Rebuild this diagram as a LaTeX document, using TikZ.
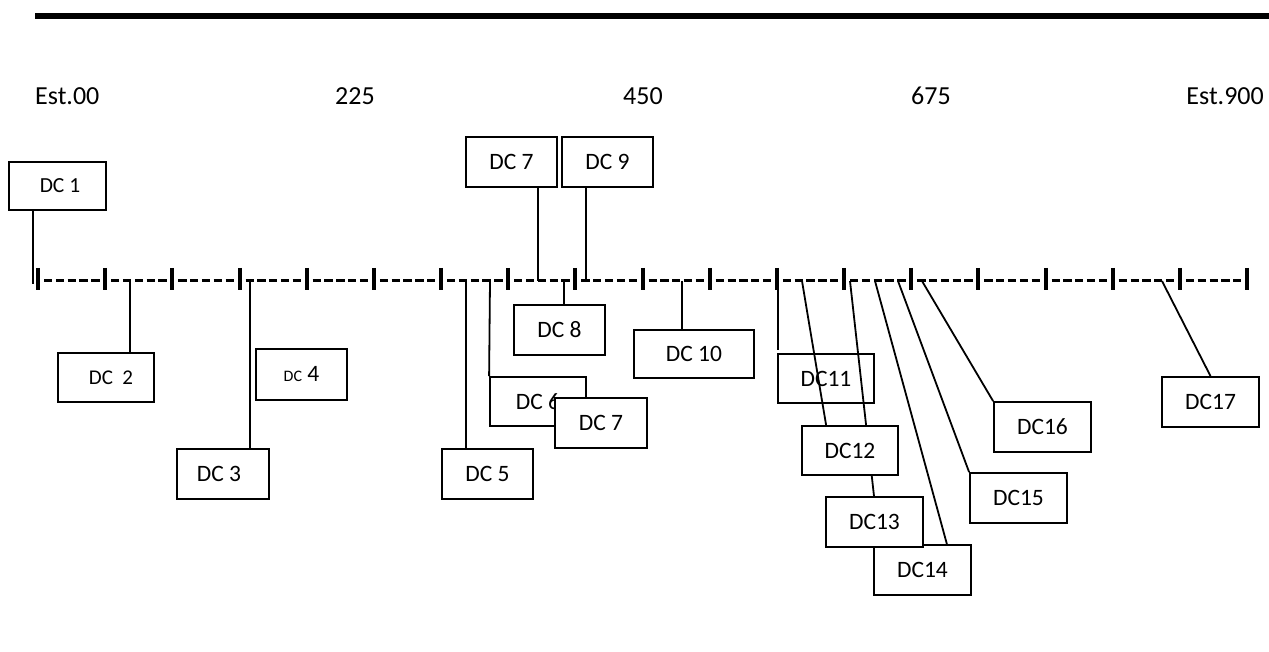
\documentclass[tikz,border=0pt]{standalone}
\usepackage{fontspec}
\setmainfont{Carlito}
\usetikzlibrary{backgrounds}
\begin{document}
\begin{tikzpicture}[x=1pt,y=-1pt,
  box/.style={draw,line width=1.8pt,fill=white,minimum width=96pt,minimum height=49pt,inner sep=0pt,font=\fontsize{23.5}{27}\selectfont},
  openbox/.style={box,fill=none},
  conn/.style={line width=1.8pt},
  lbl/.style={font=\fontsize{26}{30}\selectfont,inner sep=0pt}]
\useasboundingbox (0,0) rectangle (1269,652);
% top rule
\coordinate (tl) at (35,16);
\coordinate (tr) at (1269,16);
\draw[line width=6pt] (tl) -- (tr);
% scale labels
\node[lbl,anchor=base west] (l0) at (35,105) {Est.00};
\node[lbl,anchor=base] (l1) at (355,105) {225};
\node[lbl,anchor=base] (l2) at (643,105) {450};
\node[lbl,anchor=base] (l3) at (931,105) {675};
\node[lbl,anchor=base east] (l4) at (1264,105) {Est.900};
% axis
\foreach \i in {0,...,18}{
  \pgfmathsetmacro{\xx}{38+67.17*\i}
  \draw[line width=4pt] (\xx,268) -- (\xx,290);
}
\foreach \i in {0,...,17}{
  \pgfmathsetmacro{\xa}{38+67.17*\i+6}
  \pgfmathsetmacro{\xb}{38+67.17*\i+61.5}
  \draw[line width=3pt,dash pattern=on 8.3pt off 3.5pt] (\xa,281) -- (\xb,281);
}
% boxes
\node[box,minimum width=97pt,minimum height=48pt,font=\fontsize{21.5}{25}\selectfont] (dc1) at (57.5,186) {\hspace*{5pt}DC 1};
\node[box,font=\fontsize{21}{25}\selectfont] (dc2) at (106,377.5) {\hspace*{10pt}DC\ \ 2};
\node[box,minimum width=92pt,minimum height=50pt] (dc3) at (223,474) {DC 3\hspace*{8pt}};
\node[box,minimum width=91pt,minimum height=51pt] (dc4) at (301.5,374.5) {{\fontsize{16}{18}\selectfont DC} 4};
\node[box,minimum width=91pt,minimum height=50pt] (dc7a) at (511.5,162) {DC 7};
\node[box,minimum width=91pt,minimum height=50pt] (dc9) at (607.5,162) {DC 9};
\node[box,minimum width=91pt,minimum height=50pt] (dc8) at (559.5,330) {DC 8};
\node[box,minimum width=120pt,minimum height=48pt] (dc10) at (694,354) {DC 10};
\node[box] (dc6) at (538,401.5) {DC 6};
\node[box,minimum width=92pt,minimum height=50pt] (dc7b) at (601,423) {DC 7};
\node[box,minimum width=91pt,minimum height=50pt] (dc5) at (487.5,474) {DC 5};
\node[openbox] (dc11) at (826,378.5) {DC11};
\node[box,minimum width=97pt,minimum height=50pt] (dc14) at (922.5,570) {DC14};
\node[box,minimum width=97pt,minimum height=50pt] (dc13) at (874.5,522) {DC13};
\node[box] (dc12) at (850,450.5) {DC12};
\node[box,minimum width=97pt,minimum height=50pt] (dc15) at (1018.5,498) {DC15};
\node[box,minimum width=97pt,minimum height=50pt] (dc16) at (1042.5,427) {DC16};
\node[box,minimum width=97pt,minimum height=50pt] (dc17) at (1210.5,402) {DC17};
% axis points
\coordinate (a1) at (33,284);
\coordinate (a2) at (130,281);
\coordinate (a3) at (250,281);
\coordinate (a5) at (466,281);
\coordinate (a6) at (490,281);
\coordinate (a7) at (538,281);
\coordinate (a8) at (564,281);
\coordinate (a9) at (586,281);
\coordinate (a10) at (682,281);
\coordinate (a11) at (778,281);
\coordinate (e11) at (778,350);
\coordinate (a12) at (802,281);
\coordinate (a13) at (850,281);
\coordinate (a14) at (875,281);
\coordinate (a15) at (898,281);
\coordinate (a16) at (922,281);
\coordinate (a17) at (1162,281);
\begin{scope}[on background layer]
\draw[conn] (dc1.south -| a1) -- (a1);
\draw[conn] (a2) -- (a2 |- dc2.north);
\draw[conn] (a3) -- (a3 |- dc3.north);
\draw[conn] (a5) -- (a5 |- dc5.north);
\draw[conn] (a6) -- (dc6.north west);
\draw[conn] (dc7a.south -| a7) -- (a7);
\draw[conn] (a8) -- (a8 |- dc8.north);
\draw[conn] (dc9.south -| a9) -- (a9);
\draw[conn] (a10) -- (a10 |- dc10.north);
\draw[conn] (a11) -- (e11);
\draw[conn] (a12) -- ([xshift=25pt]dc12.north west);
\draw[conn] (a13) -- (dc13.north -| 874,0);
\draw[conn] (a14) -- ([xshift=-25pt]dc14.north east);
\draw[conn] (a15) -- (dc15.north west);
\draw[conn] (a16) -- (dc16.north west);
\draw[conn] (a17) -- (dc17.north);
\end{scope}
\end{tikzpicture}
\end{document}
